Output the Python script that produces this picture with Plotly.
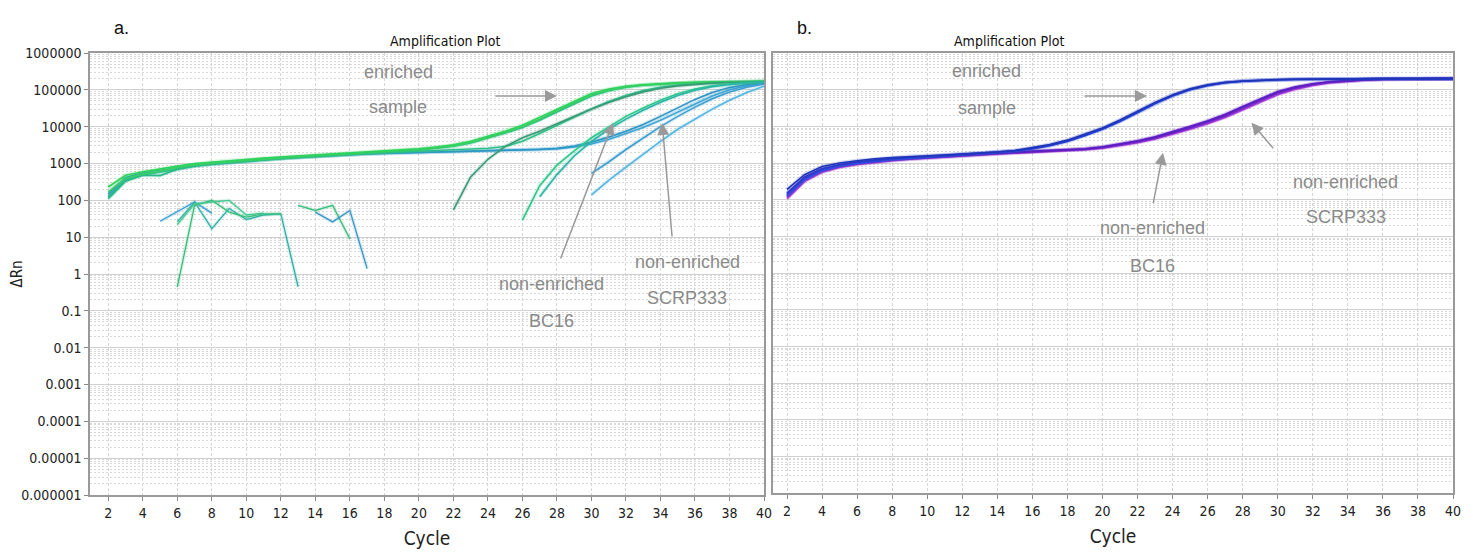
import plotly.graph_objects as go

# ---------------- data ----------------
cycles = list(range(2, 41))

# Panel a: full-length curves (cycle 2..40)
a_enriched_1 = [230, 480, 600, 700, 850, 1000, 1100, 1200, 1300, 1400, 1500, 1600, 1700, 1800, 1900, 2000,
                2150, 2300, 2500, 2800, 3200, 4000, 5500, 7500, 11000, 18000, 30000, 50000, 80000, 105000,
                125000, 138000, 148000, 155000, 160000, 163000, 166000, 168000, 170000]
a_enriched_2 = [170, 400, 520, 620, 780, 920, 1020, 1120, 1220, 1320, 1420, 1520, 1620, 1720, 1820, 1920,
                2050, 2200, 2400, 2650, 3000, 3700, 5000, 7000, 10000, 16000, 27000, 45000, 72000, 98000,
                120000, 135000, 145000, 152000, 157000, 161000, 164000, 166000, 168000]
a_enriched_3 = [110, 330, 480, 470, 700, 880, 980, 1080, 1180, 1280, 1380, 1480, 1580, 1680, 1780, 1880,
                2000, 2150, 2350, 2600, 2950, 3600, 4800, 6700, 9500, 15000, 25000, 42000, 68000, 94000,
                117000, 133000, 144000, 151000, 156000, 160000, 163000, 165000, 167000]
a_green_late = [120, 350, 500, 600, 720, 850, 950, 1050, 1150, 1250, 1350, 1450, 1550, 1650, 1750, 1850,
                1950, 2050, 2150, 2250, 2350, 2450, 2600, 2900, 4000, 6500, 11000, 18000, 30000, 48000,
                70000, 95000, 118000, 135000, 147000, 155000, 161000, 165000, 168000]
a_blue_base_1 = [150, 420, 550, 650, 780, 900, 1000, 1100, 1200, 1300, 1400, 1500, 1600, 1700, 1800, 1850,
                 1900, 1950, 2000, 2050, 2100, 2150, 2200, 2250, 2300, 2400, 2600, 3000, 3800, 5200,
                 7500, 11500, 19000, 32000, 55000, 85000, 115000, 140000, 155000]
a_blue_base_2 = [130, 380, 500, 600, 740, 860, 960, 1060, 1160, 1260, 1360, 1460, 1560, 1660, 1760, 1830,
                 1880, 1930, 1980, 2030, 2080, 2130, 2180, 2230, 2280, 2350, 2500, 2800, 3400, 4500,
                 6400, 9500, 15000, 25000, 42000, 68000, 100000, 128000, 148000]

# Panel a: late-starting curves
a_l1_x = list(range(22, 41))
a_l1_y = [55, 430, 1300, 2900, 5000, 7500, 12000, 19000, 30000, 45000, 65000, 88000, 110000, 128000,
          142000, 152000, 158000, 163000, 166000]
a_l2_x = list(range(26, 41))
a_l2_y = [29, 250, 900, 2200, 5000, 10000, 19000, 32000, 52000, 78000, 105000, 128000, 145000, 155000, 162000]
a_l3_x = list(range(27, 41))
a_l3_y = [125, 500, 1600, 4000, 8500, 16000, 28000, 46000, 70000, 97000, 122000, 140000, 152000, 160000]
a_l4_x = list(range(30, 41))
a_l4_y = [540, 1100, 2400, 5000, 10000, 19000, 34000, 57000, 87000, 118000, 145000]
a_l5_x = list(range(30, 41))
a_l5_y = [140, 350, 800, 1800, 4000, 8500, 16000, 30000, 52000, 85000, 125000]

# Panel a: noisy fragments
a_f1_x = [5, 7, 8]
a_f1_y = [27, 90, 45]
a_f2_x = [6, 7, 8, 9, 10, 11, 12, 13]
a_f2_y = [26, 90, 17, 60, 30, 40, 43, 0.45]
a_f3_x = [6, 7, 8, 9, 10, 11, 12]
a_f3_y = [0.45, 73, 100, 48, 35, 43, 43]
a_f4_x = [6, 7, 8, 9, 10, 11]
a_f4_y = [22, 80, 90, 100, 40, 45]
a_f5_x = [13, 14, 15, 16]
a_f5_y = [73, 53, 73, 9]
a_f6_x = [14, 15, 16, 17]
a_f6_y = [48, 26, 53, 1.4]

# Panel b curves (cycle 2..40)
b_enriched_1 = [190, 480, 800, 1000, 1150, 1300, 1400, 1500, 1550, 1650, 1750, 1850, 2000, 2200, 2600, 3200,
                4200, 6000, 9000, 15000, 26000, 45000, 72000, 105000, 135000, 158000, 172000, 182000, 188000,
                192000, 195000, 197000, 198000, 199000, 200000, 200000, 200000, 200000, 200000]
b_enriched_2 = [150, 400, 700, 900, 1050, 1200, 1300, 1400, 1500, 1600, 1700, 1800, 1950, 2150, 2500, 3050,
                4000, 5700, 8600, 14000, 24500, 43000, 70000, 102000, 132000, 156000, 171000, 181000, 187000,
                191000, 194000, 196000, 198000, 199000, 200000, 200000, 200000, 200000, 200000]
b_enriched_3 = [125, 350, 620, 820, 980, 1120, 1230, 1330, 1430, 1530, 1630, 1740, 1880, 2080, 2420, 2950,
                3850, 5500, 8300, 13500, 23500, 41000, 67000, 99000, 129000, 154000, 170000, 180000, 186000,
                190000, 193000, 196000, 198000, 199000, 200000, 200000, 200000, 200000, 200000]
b_non_1 = [130, 380, 650, 850, 1000, 1150, 1250, 1350, 1450, 1550, 1650, 1750, 1850, 1950, 2050, 2150,
           2250, 2400, 2700, 3200, 3900, 5000, 6800, 9500, 13500, 20000, 33000, 54000, 85000, 115000,
           142000, 163000, 178000, 187000, 193000, 197000, 199000, 200000, 200000]
b_non_2 = [115, 340, 590, 790, 940, 1080, 1190, 1290, 1390, 1490, 1590, 1690, 1790, 1890, 1990, 2090,
           2190, 2330, 2600, 3050, 3700, 4700, 6300, 8800, 12500, 18500, 30000, 49000, 78000, 108000,
           136000, 159000, 175000, 185000, 192000, 196000, 199000, 200000, 200000]
b_non_3 = [145, 420, 700, 900, 1060, 1200, 1300, 1400, 1500, 1600, 1700, 1800, 1900, 2000, 2100, 2200,
           2300, 2450, 2780, 3300, 4050, 5200, 7100, 10000, 14300, 21500, 35000, 57000, 89000, 119000,
           145000, 165000, 179000, 188000, 194000, 197000, 199000, 200000, 200000]
b_non_4 = [105, 310, 560, 760, 910, 1050, 1160, 1260, 1360, 1460, 1560, 1660, 1760, 1860, 1960, 2060,
           2160, 2300, 2550, 2950, 3550, 4500, 6000, 8300, 11800, 17500, 28000, 46000, 73000, 102000,
           131000, 155000, 172000, 183000, 191000, 196000, 198000, 200000, 200000]

y_tickvals = [1e-6, 1e-5, 1e-4, 1e-3, 1e-2, 1e-1, 1, 10, 100, 1000, 10000, 100000, 1000000]
y_ticktext = ["0.000001", "0.00001", "0.0001", "0.001", "0.01", "0.1", "1", "10", "100", "1000",
              "10000", "100000", "1000000"]
x_tickvals = list(range(2, 41, 2))

# ---------------- figure ----------------
NARROW = "Liberation Sans Narrow, Arial Narrow, DejaVu Sans Condensed, sans-serif"
SANS = "Liberation Sans, Arial, Helvetica, sans-serif"
LABEL_GRAY = "#8a8a8a"

fig = go.Figure()

def add_line(x, y, color, xa, ya, width=1.6):
    fig.add_trace(go.Scatter(x=x, y=y, mode="lines", xaxis=xa, yaxis=ya, hoverinfo="skip",
                             line=dict(color=color, width=width + 2.4), opacity=0.18, showlegend=False))
    fig.add_trace(go.Scatter(x=x, y=y, mode="lines", xaxis=xa, yaxis=ya,
                             line=dict(color=color, width=width), showlegend=False))

# Panel a
add_line(cycles, a_blue_base_2, "#3fa7d6", "x", "y")
add_line(cycles, a_blue_base_1, "#2f96c4", "x", "y")
add_line(cycles, a_green_late, "#2fbf8a", "x", "y")
add_line(cycles, a_enriched_3, "#27b98a", "x", "y")
add_line(cycles, a_enriched_2, "#3ccf6a", "x", "y")
add_line(cycles, a_enriched_1, "#2ed35a", "x", "y")
add_line(a_l1_x, a_l1_y, "#3a9a78", "x", "y")
add_line(a_l2_x, a_l2_y, "#2fc98c", "x", "y")
add_line(a_l3_x, a_l3_y, "#2bb5a5", "x", "y")
add_line(a_l4_x, a_l4_y, "#3c9fd0", "x", "y")
add_line(a_l5_x, a_l5_y, "#56b6e2", "x", "y")
add_line(a_f1_x, a_f1_y, "#3a9fd0", "x", "y", 1.3)
add_line(a_f2_x, a_f2_y, "#2fb0a8", "x", "y", 1.3)
add_line(a_f3_x, a_f3_y, "#38c07a", "x", "y", 1.3)
add_line(a_f4_x, a_f4_y, "#44c690", "x", "y", 1.3)
add_line(a_f5_x, a_f5_y, "#3cbf80", "x", "y", 1.3)
add_line(a_f6_x, a_f6_y, "#3a98c8", "x", "y", 1.3)

# Panel b
add_line(cycles, b_non_4, "#b548d8", "x2", "y2")
add_line(cycles, b_non_2, "#8e2fd6", "x2", "y2")
add_line(cycles, b_non_3, "#6a24c8", "x2", "y2")
add_line(cycles, b_non_1, "#5a1fc0", "x2", "y2")
add_line(cycles, b_enriched_3, "#3550e0", "x2", "y2")
add_line(cycles, b_enriched_2, "#2440d0", "x2", "y2")
add_line(cycles, b_enriched_1, "#1f35b8", "x2", "y2")

# the page body adds an 8px offset; size the figure to fill the rest of the window
OFF = 8
W, H = 1473 - OFF, 560 - OFF
def px(xp):
    return (xp - OFF) / W
def py(yp):
    return 1 - (yp - OFF) / H

common_x = dict(
    tickmode="array", tickvals=x_tickvals, ticks="outside", ticklen=4, tickcolor="#888888",
    tickfont=dict(family=NARROW, size=14, color="#222222"),
    showgrid=True, gridcolor="#d6d6d6", griddash="3px,2px", gridwidth=1,
    showline=True, linecolor="#9a9a9a", linewidth=1.5, mirror=True, zeroline=False,
    automargin=False,
    title=dict(text="Cycle", font=dict(family=NARROW, size=19, color="#222222"), standoff=12),
)
common_y = dict(
    type="log", range=[-6, 6], tickmode="array", tickvals=y_tickvals, ticktext=y_ticktext,
    showgrid=True, gridcolor="#d0d0d0", gridwidth=1,
    minor=dict(dtick="D1", showgrid=True, gridcolor="#d8d8d8", griddash="2px,2px", ticks=""),
    showline=True, linecolor="#9a9a9a", linewidth=1.5, mirror=True, zeroline=False,
    automargin=False,
)

fig.update_layout(
    width=W, height=H, margin=dict(l=0, r=0, t=0, b=0, autoexpand=False),
    paper_bgcolor="white", plot_bgcolor="white", showlegend=False,
    xaxis=dict(common_x, domain=[px(90), px(764)], range=[0.94, 40], anchor="y"),
    yaxis=dict(common_y, domain=[py(495), py(53)], anchor="x", ticks="outside", ticklen=4,
               tickcolor="#888888", tickfont=dict(family=NARROW, size=14, color="#222222"),
               title=dict(text="ΔRn", font=dict(family=NARROW, size=15, color="#222222"), standoff=4)),
    xaxis2=dict(common_x, domain=[px(773), px(1453)], range=[1.2, 40], anchor="y2"),
    yaxis2=dict(common_y, domain=[py(493), py(53)], anchor="x2", showticklabels=False, ticks=""),
)

annotations = [
    dict(text="a.", x=px(112), y=py(16), xref="paper", yref="paper", showarrow=False,
         xanchor="left", font=dict(family=SANS, size=18, color="#111111")),
    dict(text="b.", x=px(795), y=py(16), xref="paper", yref="paper", showarrow=False,
         xanchor="left", font=dict(family=SANS, size=18, color="#111111")),
    dict(text="Amplification Plot", x=px(388), y=py(31), xref="paper", yref="paper", showarrow=False,
         font=dict(family=NARROW, size=14, color="#111111")),
    dict(text="Amplification Plot", x=px(1066), y=py(31), xref="paper", yref="paper", showarrow=False,
         font=dict(family=NARROW, size=14, color="#111111")),
]

def label(text, x, y, xa, ya):
    annotations.append(dict(text=text, x=x, y=y, xref=xa, yref=ya, showarrow=False,
                            font=dict(family=SANS, size=18, color=LABEL_GRAY)))

def arrow(x, y, ax, ay, xa, ya):
    annotations.append(dict(text="", x=x, y=y, xref=xa, yref=ya, ax=ax, ay=ay, axref="pixel", ayref="pixel",
                            showarrow=True, arrowhead=2, arrowsize=1.6, arrowwidth=1.5,
                            arrowcolor="#9a9a9a"))

# Panel a labels (y in log10 units)
label("enriched", 18.8, 5.48, "x", "y")
label("sample", 18.8, 4.53, "x", "y")
arrow(28.0, 4.83, -63, 0, "x", "y")
label("non-enriched", 27.66, -0.28, "x", "y")
label("BC16", 27.66, -1.28, "x", "y")
arrow(31.25, 4.10, -53, 137, "x", "y")
label("non-enriched", 35.54, 0.32, "x", "y")
label("SCRP333", 35.54, -0.66, "x", "y")
arrow(34.1, 4.10, 10, 115, "x", "y")

# Panel b labels
label("enriched", 13.41, 5.51, "x2", "y2")
label("sample", 13.41, 4.51, "x2", "y2")
arrow(22.54, 4.83, -64, 0, "x2", "y2")
label("non-enriched", 33.89, 2.47, "x2", "y2")
label("SCRP333", 33.89, 1.52, "x2", "y2")
arrow(28.5, 4.10, 23, 27, "x2", "y2")
label("non-enriched", 22.88, 1.22, "x2", "y2")
label("BC16", 22.88, 0.18, "x2", "y2")
arrow(23.45, 3.28, -10, 52, "x2", "y2")

fig.update_layout(annotations=annotations)

fig.write_html("out.html")
